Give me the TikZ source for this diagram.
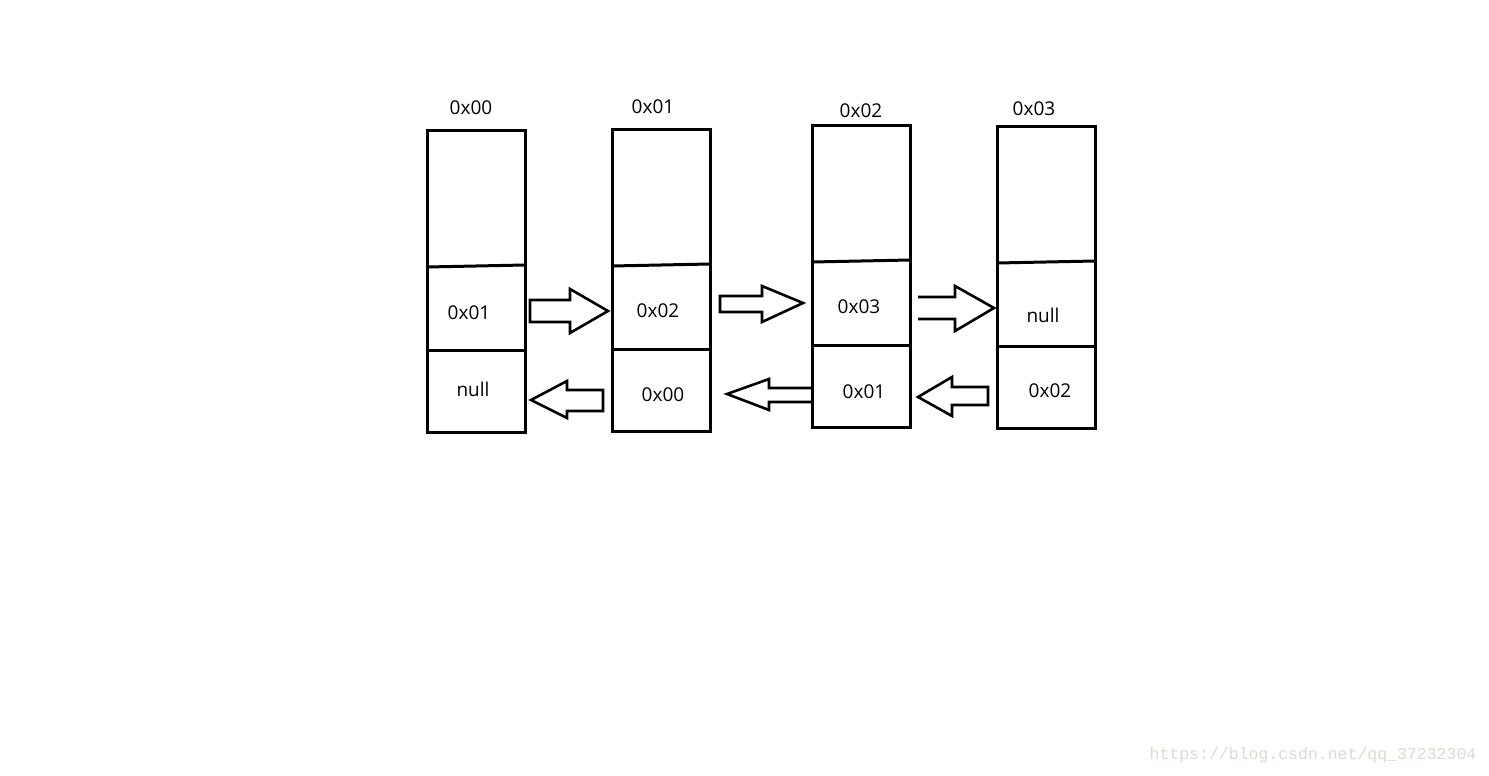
\documentclass[tikz,border=0pt]{standalone}
\usepackage{fontspec}
\setmainfont{Open Sans}
\newfontfamily\wmfont{Liberation Mono}
\definecolor{wmgray}{RGB}{222,218,210}
\begin{document}
\begin{tikzpicture}[x=1pt,y=-1pt,
  cellline/.style={line width=3pt},
  blockarrow/.style={line width=2.6pt, line join=miter},
  lbl/.style={inner sep=0pt, font=\fontsize{19}{22}\selectfont}]
\useasboundingbox[fill=white] (0,0) rectangle (1489,776);
% boxes
\draw[cellline] (427,130) rectangle (525,432);
\draw[cellline] (427,267) -- (525,265);
\draw[cellline] (427,350) -- (527,350);
\draw[cellline] (612,129) rectangle (710,431);
\draw[cellline] (612,266) -- (710,264);
\draw[cellline] (612,349) -- (712,349);
\draw[cellline] (812,125) rectangle (910,427);
\draw[cellline] (812,262) -- (910,260);
\draw[cellline] (812,345) -- (912,345);
\draw[cellline] (997,126) rectangle (1095,428);
\draw[cellline] (997,263) -- (1095,261);
\draw[cellline] (997,346) -- (1097,346);
% address labels
\node[lbl] (a0) at (471,108) {0x00};
\node[lbl] (a1) at (653,107) {0x01};
\node[lbl] (a2) at (861,111) {0x02};
\node[lbl] (a3) at (1034,109) {0x03};
% cell texts
\node[lbl] (n0) at (469,313) {0x01};
\node[lbl] (p0) at (473,389) {null};
\node[lbl] (n1) at (658,311) {0x02};
\node[lbl] (p1) at (663,395) {0x00};
\node[lbl] (n2) at (859,307) {0x03};
\node[lbl] (p2) at (864,392) {0x01};
\node[lbl] (n3) at (1043,315) {null};
\node[lbl] (p3) at (1050,391) {0x02};
% right block arrows
\draw[blockarrow] (530,300) -- (570,300) -- (570,289) -- (608,311) -- (570,333) -- (570,322) -- (530,322) -- cycle;
\draw[blockarrow] (720,296) -- (762,296) -- (762,286) -- (803,303) -- (762,322) -- (762,312) -- (720,312) -- cycle;
\draw[blockarrow] (918,297) -- (955,297) -- (955,286) -- (994,308) -- (955,331) -- (955,319) -- (918,319);
% left block arrows
\draw[blockarrow] (603,390) -- (567,390) -- (567,381) -- (531,400) -- (567,418) -- (567,411) -- (603,411) -- cycle;
\draw[blockarrow] (812,388) -- (769,388) -- (769,379) -- (727,394) -- (769,410) -- (769,402) -- (812,402);
\draw[blockarrow] (988,387) -- (952,387) -- (952,377) -- (918,397) -- (952,416) -- (952,405) -- (988,405) -- cycle;
% watermark
\node[inner sep=0pt, text=wmgray, font=\wmfont\fontsize{16.5}{18}\selectfont] (wm) at (1313,755) {https://blog.csdn.net/qq\_37232304};
\end{tikzpicture}
\end{document}
